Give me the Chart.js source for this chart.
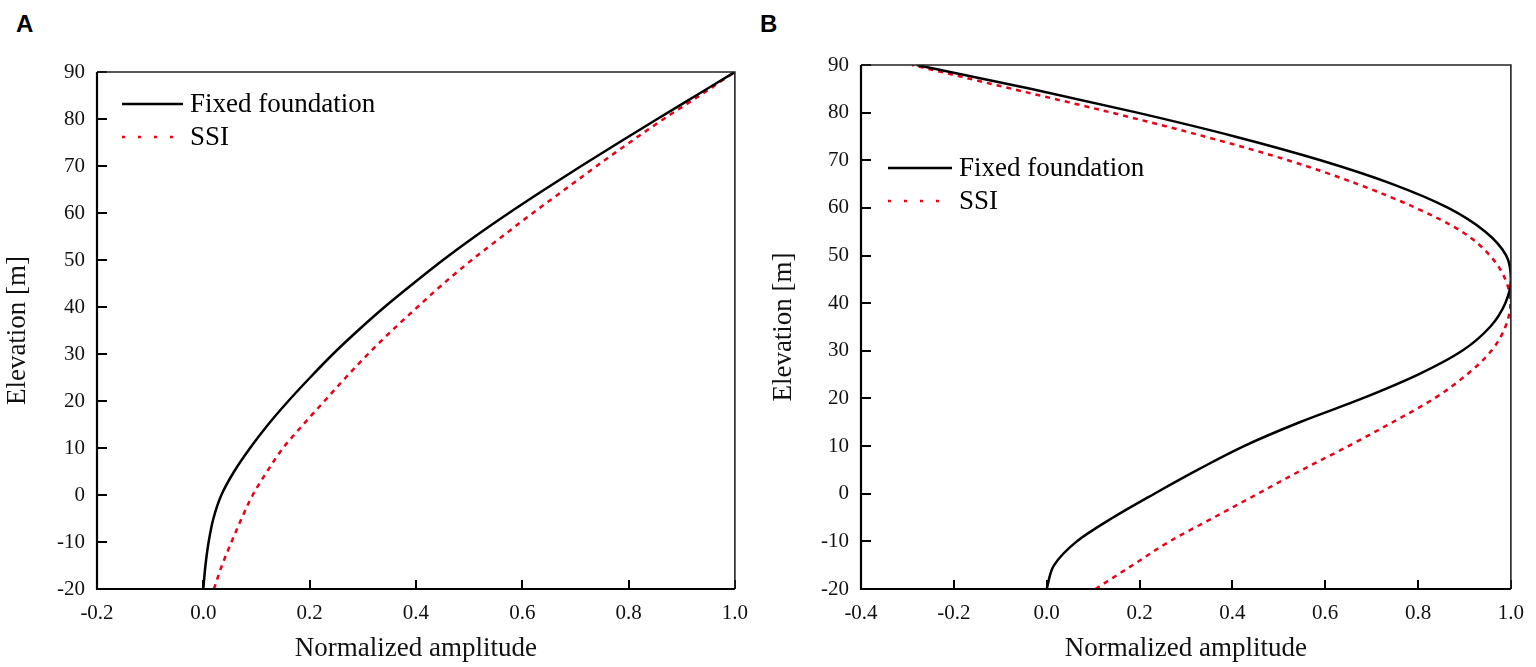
<!DOCTYPE html>
<html>
<head>
<meta charset="utf-8">
<script src="https://cdn.jsdelivr.net/npm/chart.js@4.4.0/dist/chart.umd.min.js"></script>
<style>
    html, body { margin: 0; padding: 0; background: #fff; }
    body { width: 1536px; height: 667px; position: relative; overflow: hidden; }
    canvas { position: absolute; top: 0; }
    .tag { position: absolute; top: 10px; line-height: 24px; font: bold 24px "Liberation Sans", Arial, sans-serif; color: #000; }
</style>
</head>
<body>
<div class="tag" style="left:16px">A</div>
<div class="tag" style="left:760px">B</div>
<canvas id="chartA" style="left:0" width="760" height="667"></canvas>
<canvas id="chartB" style="left:768px" width="768" height="667"></canvas>
<script>
// elevation (m) shared by every curve
const elevation = [-20, -15, -10, -5, 0, 5, 10, 15, 20, 25, 30, 35, 40, 45, 50, 55, 60, 65, 70, 75, 80, 85, 90];

// panel A: first mode, normalized amplitude
const fixedA = [0.000, 0.004, 0.010, 0.019, 0.034, 0.058, 0.088, 0.122, 0.160, 0.201, 0.244, 0.291, 0.341,
    0.395, 0.451, 0.511, 0.575, 0.642, 0.711, 0.782, 0.854, 0.927, 1.000];
const ssiA = [0.020, 0.035, 0.053, 0.072, 0.093, 0.120, 0.150, 0.188, 0.228, 0.268, 0.310, 0.355, 0.403,
    0.452, 0.505, 0.562, 0.620, 0.680, 0.740, 0.802, 0.866, 0.934, 1.000];

// panel B: second mode, normalized amplitude
const fixedB = [0.000, 0.016, 0.065, 0.143, 0.232, 0.325, 0.425, 0.545, 0.680, 0.800, 0.895, 0.955, 0.988,
    1.000, 0.990, 0.945, 0.865, 0.745, 0.590, 0.405, 0.195, -0.035, -0.280];
const ssiB = [0.105, 0.185, 0.265, 0.360, 0.455, 0.550, 0.650, 0.745, 0.835, 0.905, 0.958, 0.988, 0.999,
    0.988, 0.955, 0.895, 0.795, 0.670, 0.520, 0.340, 0.140, -0.075, -0.290];

const seriesNames = ['Fixed foundation', 'SSI'];
const yTicks = { min: -20, max: 90, step: 10 };
const xTicksA = { min: -0.2, max: 1.0, step: 0.2 };
const xTicksB = { min: -0.4, max: 1.0, step: 0.2 };

const serif = '"Liberation Serif", "Times New Roman", serif';
const red = 'rgb(232, 0, 22)';

const toPoints = (xs) => xs.map((v, i) => ({ x: v, y: elevation[i] }));

// box round the plot, ticks pointing inwards, legend inside the plot
const framePlugin = {
    id: 'frame',
    afterDatasetsDraw(chart, args, opts) {
        const { ctx, chartArea: a, scales } = chart;
        ctx.save();
        ctx.strokeStyle = '#000';
        ctx.lineWidth = 2;
        ctx.beginPath();
        scales.x.ticks.forEach((t) => {
            const px = Math.round(scales.x.getPixelForValue(t.value));
            ctx.moveTo(px, a.bottom);
            ctx.lineTo(px, a.bottom - 9);
        });
        scales.y.ticks.forEach((t) => {
            const py = Math.round(scales.y.getPixelForValue(t.value));
            ctx.moveTo(a.left, py);
            ctx.lineTo(a.left + 10, py);
        });
        ctx.stroke();

        ctx.lineWidth = 1.6;
        ctx.strokeStyle = '#222';
        ctx.beginPath();
        ctx.moveTo(a.left, a.top);
        ctx.lineTo(a.right, a.top);
        ctx.lineTo(a.right, a.bottom);
        ctx.stroke();
        ctx.lineWidth = 2.2;
        ctx.strokeStyle = '#000';
        ctx.beginPath();
        ctx.moveTo(a.left, a.top);
        ctx.lineTo(a.left, a.bottom);
        ctx.lineTo(a.right, a.bottom);
        ctx.stroke();

        // legend
        const lg = opts.legend;
        ctx.font = '27px ' + serif;
        ctx.textBaseline = 'middle';
        ctx.fillStyle = '#000';
        chart.data.datasets.forEach((ds, i) => {
            const y = lg.y + i * lg.gap;
            ctx.beginPath();
            ctx.strokeStyle = ds.borderColor;
            ctx.lineWidth = 2.5;
            ctx.setLineDash(i === 0 ? [] : [3, 13]);
            ctx.moveTo(lg.x, y);
            ctx.lineTo(lg.x + lg.len, y);
            ctx.stroke();
            ctx.setLineDash([]);
            ctx.fillText(ds.label, lg.x + lg.len + 7, y + 1);
        });
        ctx.restore();
    },
};

function buildChart(canvasId, fixed, ssi, xt, yAxisWidth, padTop, titlePad, legend) {
    return new Chart(document.getElementById(canvasId), {
        type: 'line',
        data: {
            datasets: [
                { label: seriesNames[0], data: toPoints(fixed), borderColor: '#000', borderWidth: 2.5, pointRadius: 0 },
                { label: seriesNames[1], data: toPoints(ssi), borderColor: red, borderWidth: 2.5, borderDash: [5, 5], pointRadius: 0 },
            ],
        },
        options: {
            responsive: false,
            animation: false,
            devicePixelRatio: 1,
            indexAxis: 'y',
            elements: { line: { cubicInterpolationMode: 'monotone' } },
            layout: { padding: { top: padTop, right: 19, left: 0, bottom: 0 } },
            plugins: {
                legend: { display: false },
                tooltip: { enabled: false },
                frame: { legend },
            },
            scales: {
                x: {
                    type: 'linear',
                    min: xt.min,
                    max: xt.max,
                    grid: { display: false, drawTicks: false },
                    border: { display: false },
                    ticks: {
                        stepSize: xt.step,
                        padding: 12,
                        color: '#111',
                        font: { family: serif, size: 21 },
                        callback: (v) => (Math.abs(v) < 1e-9 ? 0 : v).toFixed(1),
                    },
                    title: {
                        display: true,
                        text: 'Normalized amplitude',
                        color: '#111',
                        font: { family: serif, size: 27, lineHeight: 1.0 },
                        padding: { top: 0, bottom: 5 },
                    },
                    afterFit: (scale) => { scale.height = 78; },
                },
                y: {
                    type: 'linear',
                    min: yTicks.min,
                    max: yTicks.max,
                    grid: { display: false, drawTicks: false },
                    border: { display: false },
                    ticks: {
                        stepSize: yTicks.step,
                        padding: 12,
                        color: '#111',
                        font: { family: serif, size: 21 },
                    },
                    title: {
                        display: true,
                        text: 'Elevation [m]',
                        color: '#111',
                        font: { family: serif, size: 27, lineHeight: 1.0 },
                        padding: { top: titlePad, bottom: 0 },
                    },
                    afterFit: (scale) => { scale.width = yAxisWidth; },
                },
            },
        },
        plugins: [framePlugin],
    });
}

buildChart('chartA', fixedA, ssiA, xTicksA, 97, 72, 4, { x: 122, y: 104, gap: 33, len: 61 });
buildChart('chartB', fixedB, ssiB, xTicksB, 93, 65, 2, { x: 120, y: 168, gap: 33, len: 64 });
</script>
</body>
</html>
